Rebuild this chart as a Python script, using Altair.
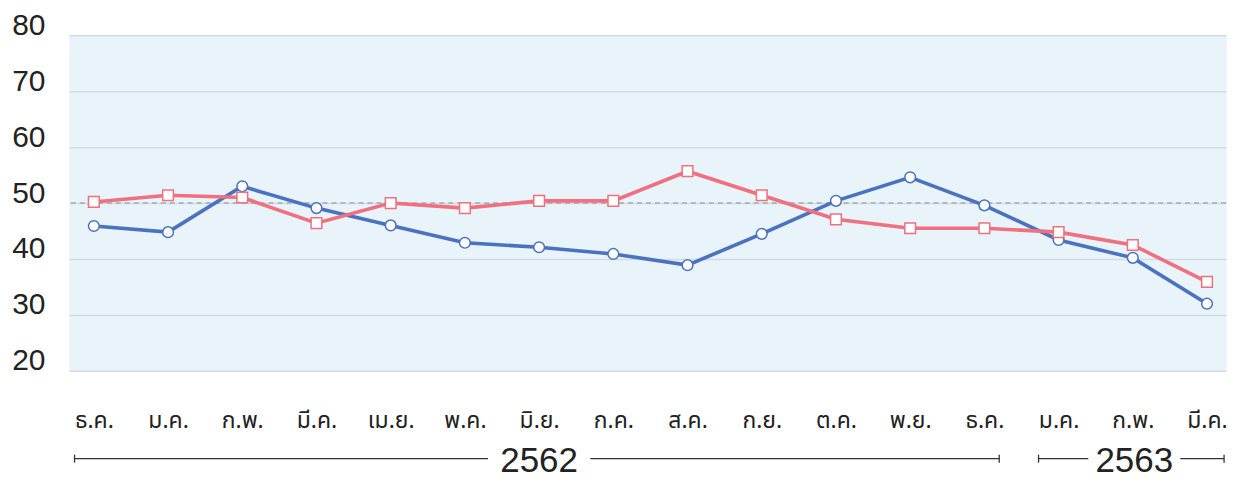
import altair as alt
import pandas as pd

months = ["ธ.ค.", "ม.ค.", "ก.พ.", "มี.ค.", "เม.ย.", "พ.ค.", "มิ.ย.", "ก.ค.",
          "ส.ค.", "ก.ย.", "ต.ค.", "พ.ย.", "ธ.ค.", "ม.ค.", "ก.พ.", "มี.ค."]
blue_values = [45.9, 44.8, 53.0, 49.1, 46.0, 42.9, 42.1, 40.9,
               38.9, 44.5, 50.4, 54.6, 49.6, 43.4, 40.2, 32.0]
pink_values = [50.2, 51.4, 51.0, 46.4, 50.0, 49.1, 50.4, 50.4,
               55.7, 51.4, 47.1, 45.5, 45.5, 44.8, 42.5, 35.9]
reference_level = [50]
years = ["2562", "2563"]
year_start = [-0.26, 12.73]
year_end = [12.20, 15.23]
year_center = [6.0, 14.02]
year_gap = [0.69, 0.62]

BLUE = "#4a72c0"
PINK = "#f0707f"

idx = list(range(len(months)))
df = pd.DataFrame({
    "i": idx * 2,
    "value": blue_values + pink_values,
    "series": ["blue"] * len(idx) + ["pink"] * len(idx),
})

label_expr = "[" + ",".join("'" + m + "'" for m in months) + "][datum.value]"

xscale = alt.Scale(domain=[-0.336, 15.256], nice=False, zero=False)
yscale = alt.Scale(domain=[20, 80], nice=False, zero=False)

x_enc = alt.X("i:Q", scale=xscale, axis=alt.Axis(
    values=idx, labelExpr=label_expr, title=None, grid=False, ticks=False,
    domain=False, labelFontSize=23, labelColor="#222222",
    labelFont="Noto Sans Thai, Loma, Garuda, Noto Sans, sans-serif",
    labelPadding=50, labelBaseline="middle"))
y_enc = alt.Y("value:Q", scale=yscale, axis=alt.Axis(
    values=[20, 30, 40, 50, 60, 70, 80], title=None, ticks=False, domain=False,
    grid=True, gridColor="#d3dae2", gridWidth=1.5, labelFontSize=30,
    labelColor="#222222", labelFont="Liberation Sans", labelPadding=24,
    labelOffset=-10))

color = alt.Color("series:N", scale=alt.Scale(domain=["blue", "pink"], range=[BLUE, PINK]), legend=None)
shape = alt.Shape("series:N", scale=alt.Scale(domain=["blue", "pink"], range=["circle", "square"]), legend=None)

base = alt.Chart(df)
lines = base.mark_line(strokeWidth=3.6).encode(x=x_enc, y=y_enc, color=color, detail="series:N")
points = base.mark_point(filled=True, fill="white", size=115, strokeWidth=1.5, opacity=1).encode(
    x="i:Q", y="value:Q", stroke=alt.Stroke("series:N", scale=alt.Scale(domain=["blue", "pink"], range=[BLUE, PINK]), legend=None), shape=shape)

ref = alt.Chart(pd.DataFrame({"v": reference_level})).mark_rule(
    strokeDash=[5, 4], color="#a6abb2", strokeWidth=1.5).encode(y=alt.Y("v:Q", scale=yscale))

yr = pd.DataFrame({"year": years, "start": year_start, "end": year_end,
                   "center": year_center, "gap": year_gap})
yr["left_end"] = yr["center"] - yr["gap"]
yr["right_start"] = yr["center"] + yr["gap"]

ROW_Y = 424
seg_left = alt.Chart(yr).mark_rule(color="#333333", strokeWidth=1.3).encode(
    x=alt.X("start:Q", scale=xscale), x2="left_end:Q", y=alt.value(ROW_Y))
seg_right = alt.Chart(yr).mark_rule(color="#333333", strokeWidth=1.3).encode(
    x=alt.X("right_start:Q", scale=xscale), x2="end:Q", y=alt.value(ROW_Y))
tick_l = alt.Chart(yr).mark_rule(color="#333333", strokeWidth=1.3).encode(
    x=alt.X("start:Q", scale=xscale), y=alt.value(ROW_Y - 4), y2=alt.value(ROW_Y + 4))
tick_r = alt.Chart(yr).mark_rule(color="#333333", strokeWidth=1.3).encode(
    x=alt.X("end:Q", scale=xscale), y=alt.value(ROW_Y - 4), y2=alt.value(ROW_Y + 4))
yr_text = alt.Chart(yr).mark_text(fontSize=35, font="Liberation Sans", color="#222222",
                                   baseline="middle", align="center").encode(
    x=alt.X("center:Q", scale=xscale), y=alt.value(ROW_Y + 2), text="year:N")

chart = alt.layer(ref, lines, points, seg_left, seg_right, tick_l, tick_r, yr_text).properties(
    width=1159, height=336,
    autosize=alt.AutoSizeParams(type="none"),
    padding={"left": 61, "top": 27, "right": 5, "bottom": 120},
    view=alt.ViewBackground(fill="#e8f3fa", stroke="transparent"),
).configure(background="white")

chart.save("out.html", embed_options={"renderer": "svg", "actions": False})
